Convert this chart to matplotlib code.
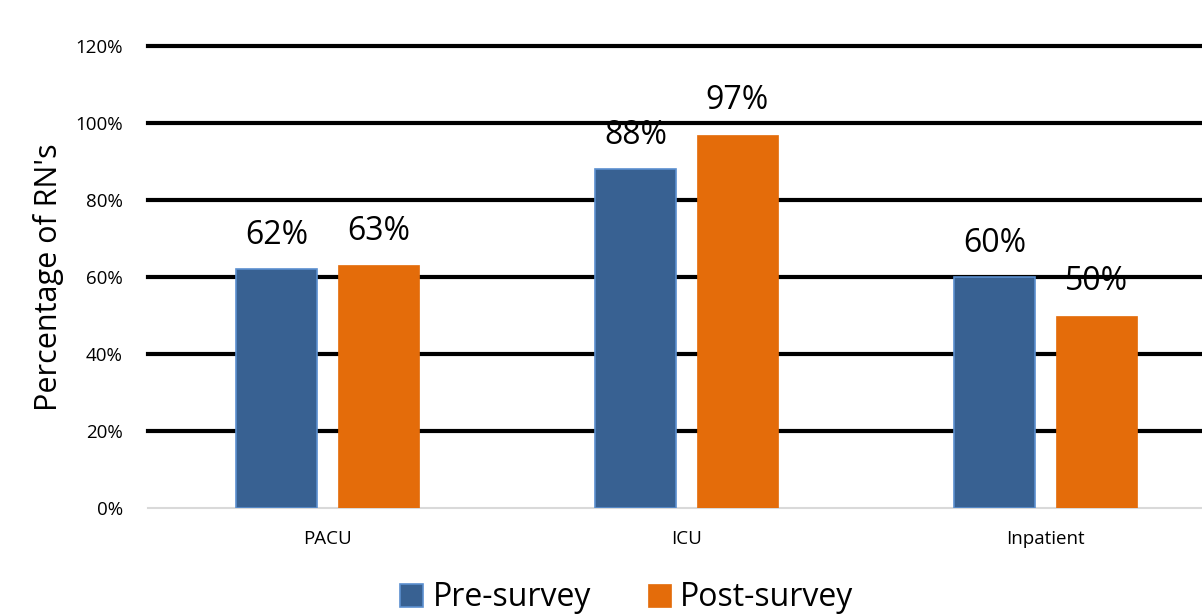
import numpy as np
import matplotlib
matplotlib.use('Agg')
import matplotlib.pyplot as plt
from matplotlib.ticker import PercentFormatter

plt.rcParams['font.family'] = ['Open Sans', 'DejaVu Sans']

# data
units = ['PACU', 'ICU', 'Inpatient']
pre_survey = [0.62, 0.88, 0.60]
post_survey = [0.63, 0.97, 0.50]
yticks = [0, 0.2, 0.4, 0.6, 0.8, 1.0, 1.2]

blue = '#386192'
orange = '#E46C0A'

fig = plt.figure(figsize=(12.02, 6.14), dpi=100)
ax = fig.add_axes([148 / 1202, 106 / 614, 1077 / 1202, 462 / 614])

x = np.arange(len(units))
w = 0.226
off = 0.142
b1 = ax.bar(x - off, pre_survey, w, color=blue, edgecolor='#5b8fcf', linewidth=1.2,
            label='Pre-survey', zorder=3)
b2 = ax.bar(x + off, post_survey, w, color=orange, edgecolor=orange, linewidth=0.5,
            label='Post-survey', zorder=3)

for bars in (b1, b2):
    for r in bars:
        ax.text(r.get_x() + r.get_width() / 2, r.get_height() + 0.045,
                '{:.0%}'.format(r.get_height()), ha='center', va='bottom',
                fontsize=23, color='black', zorder=4)

ax.set_xlim(-0.5, len(units) - 0.5)
ax.set_ylim(0, 1.2)
ax.set_yticks(yticks)
ax.yaxis.set_major_formatter(PercentFormatter(1.0, decimals=0))
ax.set_xticks(x)
ax.set_xticklabels(units)
ax.tick_params(axis='both', length=0, labelsize=13.5)
ax.tick_params(axis='y', pad=18)
ax.tick_params(axis='x', pad=16)

ax.grid(axis='y', color='black', linewidth=3, zorder=0)
for gl in ax.get_ygridlines():
    gl.set_clip_on(False)
# the 0% line is the light grey axis line, not a black gridline
ax.get_ygridlines()[0].set_visible(False)
ax.set_axisbelow(True)

for s in ['top', 'right', 'left']:
    ax.spines[s].set_visible(False)
ax.spines['bottom'].set_color('#d9d9d9')
ax.spines['bottom'].set_linewidth(1.5)
ax.spines['bottom'].set_zorder(1)

ax.set_ylabel("Percentage of RN's", fontsize=22, labelpad=8)

fig.legend(handles=[b1, b2], loc='center', bbox_to_anchor=(627 / 1202, 1 - 598 / 614),
           ncol=2, frameon=False, fontsize=23, handlelength=0.7, handleheight=0.7,
           handletextpad=0.3, columnspacing=1.8, borderaxespad=0)

fig.savefig('out.png', dpi=100)
